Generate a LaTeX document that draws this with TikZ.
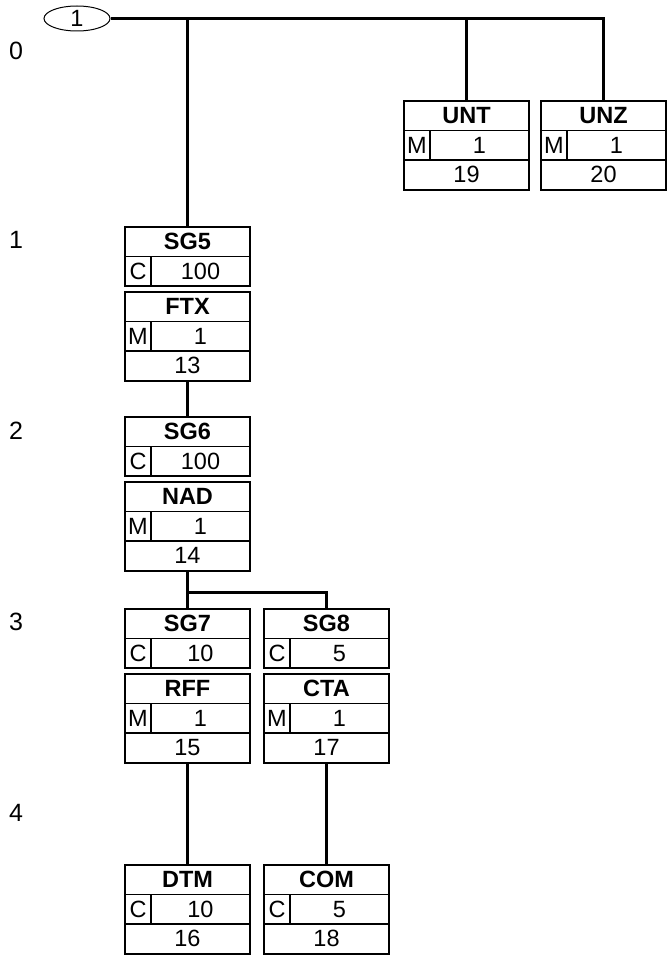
\documentclass[tikz,border=0pt]{standalone}
\usepackage{fontspec}
\setmainfont{Liberation Sans}
\usepackage{tikz}
\usetikzlibrary{shapes.geometric}

\tikzset{
  frame/.style={draw, line width=2pt, minimum width=125pt, inner sep=0pt, outer sep=0pt, anchor=north west},
  cell/.style={line width=1.5pt},
  conn/.style={line width=3pt},
  tagtext/.style={font=\fontsize{23.5}{23.5}\selectfont\bfseries, inner sep=0pt},
  celltext/.style={font=\fontsize{23.5}{23.5}\selectfont, inner sep=0pt},
  lvltext/.style={font=\fontsize{25}{25}\selectfont, inner sep=0pt}
}

% group box: tag, status, repetition
\newcommand{\grpbox}[6]{%
  \node[frame, minimum height=59pt] (#1) at (#2,#3) {};
  \draw[cell] ([yshift=-29.5pt]#1.north west) -- ([yshift=-29.5pt]#1.north east);
  \draw[cell] ([shift={(26pt,-29.5pt)}]#1.north west) -- ([xshift=26pt]#1.south west);
  \node[tagtext] (#1-tag) at ([yshift=-14.75pt]#1.north) {#4};
  \node[celltext] (#1-st) at ([shift={(13pt,-44.25pt)}]#1.north west) {#5};
  \node[celltext] (#1-rep) at ([shift={(75.5pt,-44.25pt)}]#1.north west) {#6};
}
% segment box: tag, status, repetition, position
\newcommand{\segbox}[7]{%
  \node[frame, minimum height=88.5pt] (#1) at (#2,#3) {};
  \draw[cell] ([yshift=-29.5pt]#1.north west) -- ([yshift=-29.5pt]#1.north east);
  \draw[cell] ([yshift=-59pt]#1.north west) -- ([yshift=-59pt]#1.north east);
  \draw[cell] ([shift={(26pt,-29.5pt)}]#1.north west) -- ([shift={(26pt,-59pt)}]#1.north west);
  \node[tagtext] (#1-tag) at ([yshift=-14.75pt]#1.north) {#4};
  \node[celltext] (#1-st) at ([shift={(13pt,-44.25pt)}]#1.north west) {#5};
  \node[celltext] (#1-rep) at ([shift={(75.5pt,-44.25pt)}]#1.north west) {#6};
  \node[celltext] (#1-pos) at ([yshift=14.75pt]#1.south) {#7};
}

\begin{document}
\begin{tikzpicture}[x=1pt,y=-1pt]
\useasboundingbox (0,0) rectangle (667,955);

% Root
\node[draw, ellipse, line width=1pt, minimum width=66pt, minimum height=25pt, inner sep=0pt,
  font=\fontsize{23.5}{23.5}\selectfont] (root) at (77,18.5) {1};

% Level labels
\node[lvltext] (lvl0) at (16,51) {0};
\node[lvltext] (lvl1) at (16,240) {1};
\node[lvltext] (lvl2) at (16,431) {2};
\node[lvltext] (lvl3) at (16,622) {3};
\node[lvltext] (lvl4) at (16,813) {4};

% Level 0
\segbox{unt}{404}{101}{UNT}{M}{1}{19}
\segbox{unz}{541}{101}{UNZ}{M}{1}{20}

% Level 1
\grpbox{sg5}{125}{227}{SG5}{C}{100}
\segbox{ftx}{125}{292}{FTX}{M}{1}{13}

% Level 2
\grpbox{sg6}{125}{417}{SG6}{C}{100}
\segbox{nad}{125}{482}{NAD}{M}{1}{14}

% Level 3
\grpbox{sg7}{125}{609}{SG7}{C}{10}
\segbox{rff}{125}{674}{RFF}{M}{1}{15}
\grpbox{sg8}{264}{609}{SG8}{C}{5}
\segbox{cta}{264}{674}{CTA}{M}{1}{17}

% Level 4
\segbox{dtm}{125}{865}{DTM}{C}{10}{16}
\segbox{com}{264}{865}{COM}{C}{5}{18}

% Connections
\coordinate (bar3) at (0,592);
\draw[conn] (root.east) -- (unz.north |- root.east) -- (unz.north);
\draw[conn] (sg5.north |- root.east) -- (sg5.north);
\draw[conn] (unt.north |- root.east) -- (unt.north);
\draw[conn] (ftx.south) -- (sg6.north);
\draw[conn] (nad.south) -- (sg7.north);
\draw[conn] (nad.south |- bar3) -| (sg8.north);
\draw[conn] (rff.south) -- (dtm.north);
\draw[conn] (cta.south) -- (com.north);
\end{tikzpicture}
\end{document}
